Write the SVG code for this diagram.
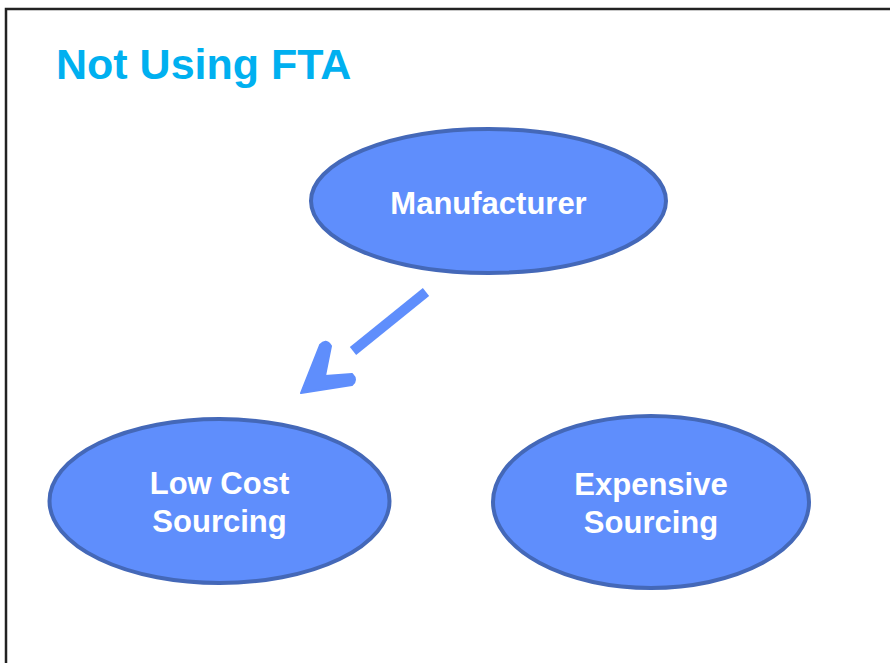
<svg xmlns="http://www.w3.org/2000/svg" width="890" height="663" viewBox="0 0 890 663">
  <style>
    .node { fill: #5f8efc; stroke: #4468b8; stroke-width: 4; }
    .label { font-family: "Liberation Sans", Arial, sans-serif; font-weight: bold; font-size: 31px; fill: #ffffff; text-anchor: middle; }
    .title { font-family: "Liberation Sans", Arial, sans-serif; font-weight: bold; font-size: 43px; fill: #00b0f0; }
    .conn { stroke: #5f8efc; fill: none; }
  </style>
  <rect width="890" height="663" fill="#ffffff"/>
  <!-- slide frame -->
  <rect x="6" y="9" width="900" height="700" fill="none" stroke="#222222" stroke-width="2.5"/>
  <text class="title" x="56" y="79">Not Using FTA</text>

  <g id="manufacturer">
    <ellipse class="node" cx="488.5" cy="201" rx="177.5" ry="72"/>
    <text class="label" x="488.5" y="214">Manufacturer</text>
  </g>

  <g id="low-cost-sourcing">
    <ellipse class="node" cx="219.5" cy="501" rx="170" ry="82"/>
    <text class="label" x="219.5" y="494">Low Cost</text>
    <text class="label" x="219.5" y="532">Sourcing</text>
  </g>

  <g id="expensive-sourcing">
    <ellipse class="node" cx="651" cy="502" rx="158" ry="86"/>
    <text class="label" x="651" y="495">Expensive</text>
    <text class="label" x="651" y="533">Sourcing</text>
  </g>

  <g id="connectors">
    <line class="conn" x1="426" y1="292" x2="353" y2="351" stroke-width="10"/>
    <path d="M301,393 L320,345 Q326,338 331,346 L325,376 L352,374 Q358,380 352,385 Z" fill="#5f8efc" stroke="#5f8efc" stroke-width="2" stroke-linejoin="round"/>
  </g>
</svg>
